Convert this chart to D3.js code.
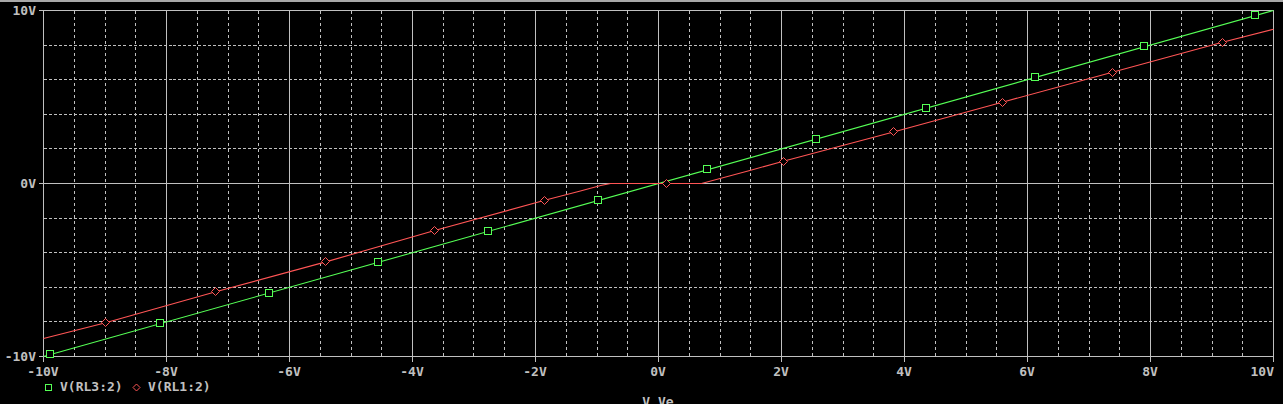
<!DOCTYPE html>
<html>
<head>
<meta charset="utf-8">
<script src="https://cdn.jsdelivr.net/npm/d3@7"></script>
<style>
  html, body { margin: 0; padding: 0; background: #000; overflow: hidden; }
  svg { display: block; }
  text { font-family: "DejaVu Sans Mono", monospace; font-weight: bold; font-size: 13px; fill: #c0c0c0; }
</style>
</head>
<body>
<svg id="chart" width="1283" height="404"></svg>
<script>
// ---- data ----
const xTickValues = [-10, -8, -6, -4, -2, 0, 2, 4, 6, 8, 10];
const xTickLabels = ["-10V", "-8V", "-6V", "-4V", "-2V", "0V", "2V", "4V", "6V", "8V", "10V"];
const yTickValues = [-10, 0, 10];
const yTickLabels = ["-10V", "0V", "10V"];
const xTitle = "V_Ve";

const seriesNames = ["V(RL3:2)", "V(RL1:2)"];

// V(RL3:2) – green trace
const greenX = [-10, 10];
const greenY = [-10, 10];
const greenMarkX = [-9.89, -8.10, -6.33, -4.55, -2.76, -0.98, 0.80, 2.57, 4.36, 6.13, 7.91, 9.70];
const greenMarkY = [-9.89, -8.10, -6.33, -4.55, -2.76, -0.98, 0.80, 2.57, 4.36, 6.13, 7.91, 9.70];

// V(RL1:2) – red trace
const redX = [-10, -8.99, -7.20, -5.41, -3.64, -1.85, -1.27, -0.94, -0.78, 0.70, 1.50, 2.03, 3.82, 5.59, 7.38, 9.17, 10];
const redY = [-8.96, -8.05, -6.26, -4.53, -2.72, -0.97, -0.43, -0.12, 0, 0, 0.77, 1.29, 2.98, 4.70, 6.43, 8.17, 8.92];
const redMarkX = [-8.99, -7.20, -5.41, -3.64, -1.85, 0.13, 2.03, 3.82, 5.59, 7.38, 9.17];
const redMarkY = [-8.05, -6.26, -4.53, -2.72, -0.97, 0, 1.29, 2.98, 4.70, 6.43, 8.17];

// ---- drawing ----
const svg = d3.select("#chart");
const W = 1283, H = 404;
const mLeft = 43, mRight = 1273, mTop = 10, mBottom = 356;
const gridCol = "#c0c0c0";
const green = "#55ff55", red = "#ff5555";

const x = d3.scaleLinear().domain([-10, 10]).range([mLeft, mRight]);
const y = d3.scaleLinear().domain([-10, 10]).range([mBottom, mTop]);

svg.append("rect").attr("x", 0).attr("y", 0).attr("width", W).attr("height", H).attr("fill", "#000");
svg.append("rect").attr("x", 0).attr("y", 0).attr("width", W).attr("height", 2).attr("fill", "#a8a8a8");

const g = svg.append("g").attr("shape-rendering", "crispEdges");
const px = v => Math.round(x(v)) + 0.5;
const py = v => Math.round(y(v)) + 0.5;

// minor vertical dashed grid every 0.5 V
const minorX = d3.range(-10, 10.001, 0.5).filter(v => Math.abs(v % 2) > 1e-6);
g.selectAll(".vminor").data(minorX).enter().append("line")
  .attr("x1", d => px(d)).attr("x2", d => px(d))
  .attr("y1", py(10)).attr("y2", py(-10))
  .attr("stroke", gridCol).attr("stroke-dasharray", "3,3");

// horizontal dashed grid every 2 V
const minorY = d3.range(-8, 8.001, 2).filter(v => v !== 0);
g.selectAll(".hminor").data(minorY).enter().append("line")
  .attr("x1", px(-10)).attr("x2", px(10))
  .attr("y1", d => py(d)).attr("y2", d => py(d))
  .attr("stroke", gridCol).attr("stroke-dasharray", "3,2");

// solid vertical major lines with tick marks below
g.selectAll(".vmajor").data(xTickValues).enter().append("line")
  .attr("x1", d => px(d)).attr("x2", d => px(d))
  .attr("y1", py(10)).attr("y2", py(-10) + 5)
  .attr("stroke", gridCol);

// solid horizontal lines with tick marks at left
g.selectAll(".hmajor").data(yTickValues).enter().append("line")
  .attr("x1", px(-10) - 5).attr("x2", px(10))
  .attr("y1", d => py(d)).attr("y2", d => py(d))
  .attr("stroke", gridCol);

// traces (offset by half a pixel so they sit on pixel centres like the grid)
const tr = svg.append("g").attr("transform", "translate(0.5,0.5)");
const line = d3.line().x(d => x(d[0])).y(d => y(d[1]));
tr.append("path").datum(d3.zip(greenX, greenY)).attr("d", line)
  .attr("fill", "none").attr("stroke", green).attr("stroke-width", 1.1);
tr.append("path").datum(d3.zip(redX, redY)).attr("d", line)
  .attr("fill", "none").attr("stroke", red).attr("stroke-width", 1.1);

// markers
const mk = svg.append("g").attr("shape-rendering", "crispEdges");
mk.selectAll(".sq").data(d3.zip(greenMarkX, greenMarkY)).enter().append("rect")
  .attr("x", d => Math.round(x(d[0])) - 3.5).attr("y", d => Math.round(y(d[1])) - 3.5)
  .attr("width", 7).attr("height", 7)
  .attr("fill", "#000").attr("stroke", green);
const diamond = (cx, cy, r) => `M${cx},${cy - r}L${cx + r},${cy}L${cx},${cy + r}L${cx - r},${cy}Z`;
svg.append("g")
  .selectAll(".dm").data(d3.zip(redMarkX, redMarkY)).enter().append("path")
  .attr("d", d => diamond(Math.round(x(d[0])) + 0.5, Math.round(y(d[1])) + 0.5, 4))
  .attr("fill", "#000").attr("stroke", red);

// axis labels
svg.selectAll(".xl").data(xTickValues).enter().append("text")
  .attr("x", (d, i) => i === xTickValues.length - 1 ? mRight + 1 : x(d))
  .attr("y", 376)
  .attr("text-anchor", (d, i) => i === xTickValues.length - 1 ? "end" : "middle")
  .text((d, i) => xTickLabels[i]);

svg.selectAll(".yl").data(yTickValues).enter().append("text")
  .attr("x", 36)
  .attr("y", d => y(d) + 4.5)
  .attr("text-anchor", "end")
  .text((d, i) => yTickLabels[i]);

// x title sits partly below the window edge, as in the reference
svg.append("text").attr("x", x(0)).attr("y", 406).attr("text-anchor", "middle").text(xTitle);

// legend
const lg = svg.append("g");
lg.append("rect").attr("x", 45.5).attr("y", 384.5).attr("width", 6).attr("height", 6)
  .attr("fill", "#000").attr("stroke", green).attr("shape-rendering", "crispEdges");
lg.append("text").attr("x", 60).attr("y", 391).text(seriesNames[0]);
lg.append("path").attr("d", diamond(136.5, 387.5, 3.5)).attr("fill", "#000").attr("stroke", red);
lg.append("text").attr("x", 148).attr("y", 391).text(seriesNames[1]);
</script>
</body>
</html>
